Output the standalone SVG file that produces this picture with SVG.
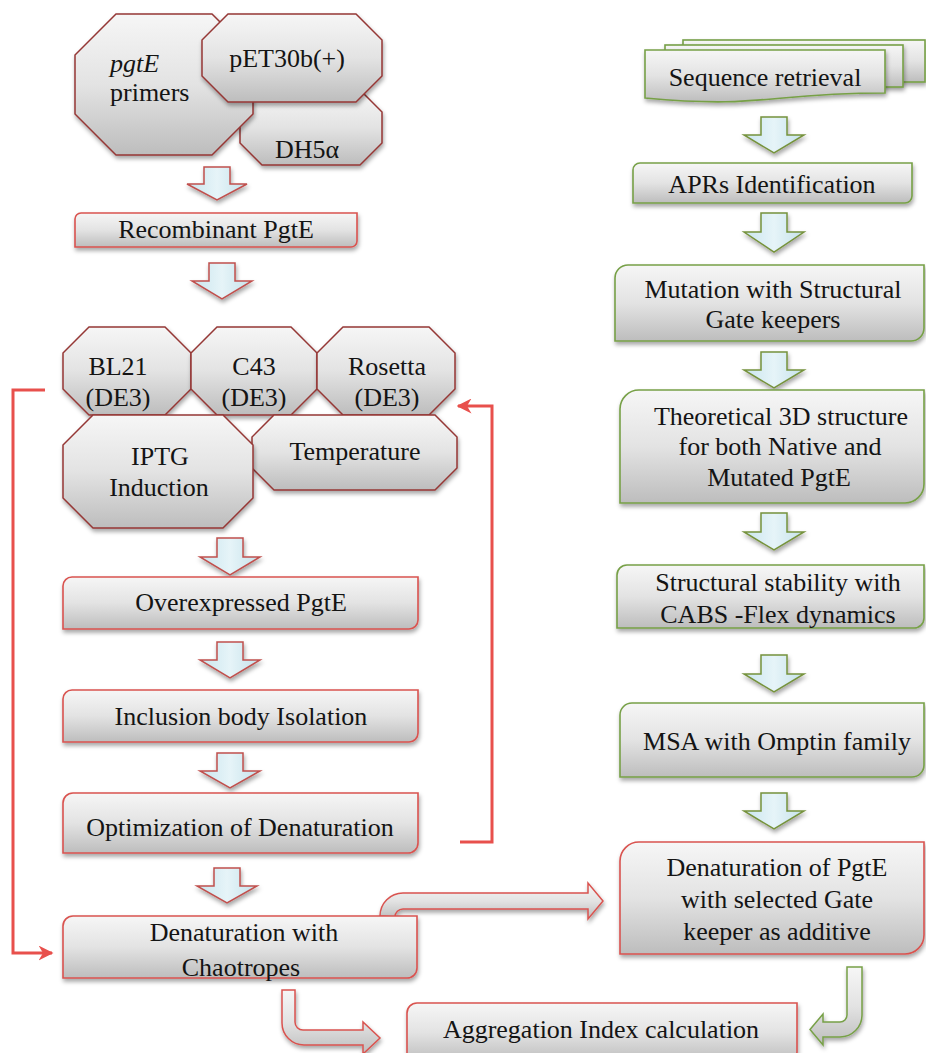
<svg xmlns="http://www.w3.org/2000/svg" width="926" height="1053" viewBox="0 0 926 1053">
<defs>
<linearGradient id="gfill" x1="0" y1="0" x2="0" y2="1">
<stop offset="0" stop-color="#f6f6f6"/>
<stop offset="0.5" stop-color="#e3e3e3"/>
<stop offset="1" stop-color="#bdbdbd"/>
</linearGradient>
<linearGradient id="gblue" x1="0" y1="0" x2="1" y2="0">
<stop offset="0" stop-color="#c9e5ee"/>
<stop offset="0.5" stop-color="#e6f4f8"/>
<stop offset="1" stop-color="#c4e1ea"/>
</linearGradient>
<filter id="sh" x="-10%" y="-10%" width="130%" height="140%">
<feDropShadow dx="1" dy="3" stdDeviation="2" flood-color="#000" flood-opacity="0.35"/>
</filter>
<marker id="ah" markerUnits="userSpaceOnUse" markerWidth="15" markerHeight="15" viewBox="0 0 10 10" refX="9" refY="5" orient="auto">
<path d="M0,0 L10,5 L0,10 L3,5 Z" fill="#e8504c"/>
</marker>
<style>
.oct{fill:url(#gfill);stroke:#953735;stroke-width:1.5;filter:url(#sh)}
.rbox{fill:url(#gfill);stroke:#d9534f;stroke-width:1.6;filter:url(#sh)}
.gbox{fill:url(#gfill);stroke:#77a047;stroke-width:1.6;filter:url(#sh)}
.rarr{fill:url(#gblue);stroke:#c0504d;stroke-width:1.5;filter:url(#sh)}
.garr{fill:url(#gblue);stroke:#76923c;stroke-width:1.5;filter:url(#sh)}
.rbent{fill:url(#gfill);stroke:#d9534f;stroke-width:1.5;filter:url(#sh)}
.gbent{fill:url(#gfill);stroke:#77a047;stroke-width:1.5;filter:url(#sh)}
.fb{fill:none;stroke:#e8504c;stroke-width:3;marker-end:url(#ah)}
text{font-size:26px;fill:#141414;text-anchor:middle}
.it{font-style:italic}
</style>
</defs>
<rect width="926" height="1053" fill="#ffffff"/>

<g id="connectors">
<path class="rarr" d="M204,167 H230 V184 H247 L217,200 L187,184 H204 Z"/>
<path class="rarr" d="M209,263 H235 V281 H252 L222,299 L192,281 H209 Z"/>
<path class="rarr" d="M217,538 H243 V557 H260 L230,575 L200,557 H217 Z"/>
<path class="rarr" d="M217,642 H243 V660 H260 L230,678 L200,660 H217 Z"/>
<path class="rarr" d="M217,753 H243 V771 H260 L230,788 L200,771 H217 Z"/>
<path class="rarr" d="M214,868 H240 V886 H257 L227,903 L197,886 H214 Z"/>
<path class="garr" d="M761,117 H787 V135 H804 L774,153 L744,135 H761 Z"/>
<path class="garr" d="M761,213 H787 V232 H804 L774,252 L744,232 H761 Z"/>
<path class="garr" d="M761,352 H787 V370 H804 L774,388 L744,370 H761 Z"/>
<path class="garr" d="M761,513 H787 V532 H804 L774,550 L744,532 H761 Z"/>
<path class="garr" d="M761,655 H787 V674 H804 L774,692 L744,674 H761 Z"/>
<path class="garr" d="M761,793 H787 V811 H804 L774,829 L744,811 H761 Z"/>
<path class="rbent" d="M380,916 A23,23 0 0 1 403,893 H588 V883 L603,901 L588,919 V909 H403 A8,8 0 0 0 395,917 Z"/>
<path class="rbent" d="M282,990 H295 V1022 A8,8 0 0 0 303,1030 H363 V1022 L380,1038 L363,1054 V1045 H304 A22,22 0 0 1 282,1023 Z"/>
<path class="gbent" d="M847,967 H862 V1015 A22,22 0 0 1 840,1037 H823 V1045 L810,1029.5 L823,1014 V1022 H840 A7,7 0 0 0 847,1015 Z"/>
<path class="fb" d="M45,390 H13 V953 H52"/>
<path class="fb" d="M460,842 H492 V406 H458"/>
</g>

<g font-family="Liberation Serif, Times New Roman, serif">
<g id="dh5a">
<path class="oct" d="M262,90 L360,90 L382,112 L382,143 L360,165 L262,165 L240,143 L240,112 Z"/>
<text x="307" y="158">DH5α</text>
</g>
<g id="pgtE-primers">
<path class="oct" d="M116,14 L212,14 L253,55 L253,114 L212,155 L116,155 L75,114 L75,55 Z"/>
<text x="110" y="72" class="it" style="text-anchor:start">pgtE</text>
<text x="110" y="101" style="text-anchor:start">primers</text>
</g>
<g id="pet30b">
<path class="oct" d="M228,14 L356,14 L382,40 L382,76 L356,102 L228,102 L202,76 L202,40 Z"/>
<text x="287" y="67">pET30b(+)</text>
</g>

<g id="recombinant">
<path class="rbox" d="M81,213 H357 V241 A6,6 0 0 1 351,247 H75 V219 A6,6 0 0 1 81,213 Z"/>
<text x="216" y="238">Recombinant PgtE</text>
</g>

<g id="bl21">
<path class="oct" d="M89,327 L165,327 L191,353 L191,389 L165,415 L89,415 L63,389 L63,353 Z"/>
<text x="118" y="375">BL21</text>
<text x="118" y="406">(DE3)</text>
</g>
<g id="c43">
<path class="oct" d="M217,327 L291,327 L317,353 L317,389 L291,415 L217,415 L191,389 L191,353 Z"/>
<text x="254" y="375">C43</text>
<text x="254" y="406">(DE3)</text>
</g>
<g id="rosetta">
<path class="oct" d="M343,327 L429,327 L455,353 L455,389 L429,415 L343,415 L317,389 L317,353 Z"/>
<text x="387" y="375">Rosetta</text>
<text x="387" y="406">(DE3)</text>
</g>
<g id="temperature">
<path class="oct" d="M274,415 L435,415 L457,437 L457,468 L435,490 L274,490 L252,468 L252,437 Z"/>
<text x="355" y="460">Temperature</text>
</g>
<g id="iptg">
<path class="oct" d="M93,415 L223,415 L253,445 L253,498 L223,528 L93,528 L63,498 L63,445 Z"/>
<text x="160" y="465">IPTG</text>
<text x="159" y="496">Induction</text>
</g>

<g id="overexpressed">
<path class="rbox" d="M72,577 H418 V620 A9,9 0 0 1 409,629 H63 V586 A9,9 0 0 1 72,577 Z"/>
<text x="241" y="611">Overexpressed PgtE</text>
</g>
<g id="inclusion">
<path class="rbox" d="M72,690 H418 V733 A9,9 0 0 1 409,742 H63 V699 A9,9 0 0 1 72,690 Z"/>
<text x="241" y="725">Inclusion body Isolation</text>
</g>
<g id="optimization">
<path class="rbox" d="M73,793 H418 V843 A10,10 0 0 1 408,853 H63 V803 A10,10 0 0 1 73,793 Z"/>
<text x="240" y="836">Optimization of Denaturation</text>
</g>
<g id="chaotropes">
<path class="rbox" d="M73,916 H417 V968 A10,10 0 0 1 407,978 H63 V926 A10,10 0 0 1 73,916 Z"/>
<text x="244" y="941">Denaturation with</text>
<text x="241" y="976">Chaotropes</text>
</g>

<g id="sequence">
<rect class="gbox" x="683" y="40" width="242" height="42"/>
<rect class="gbox" x="665" y="45" width="238" height="42"/>
<path class="gbox" d="M645,50 H885 V93 C765,93 765,109 645,98 Z"/>
<text x="765" y="86">Sequence retrieval</text>
</g>
<g id="aprs">
<path class="gbox" d="M640,163 H912 V196 A7,7 0 0 1 905,203 H633 V170 A7,7 0 0 1 640,163 Z"/>
<text x="772" y="193">APRs Identification</text>
</g>
<g id="mutation">
<path class="gbox" d="M628,265 H924 V328 A13,13 0 0 1 911,341 H615 V278 A13,13 0 0 1 628,265 Z"/>
<text x="773" y="298">Mutation with Structural</text>
<text x="773" y="328">Gate keepers</text>
</g>
<g id="theoretical">
<path class="gbox" d="M639,390 H924 V484 A19,19 0 0 1 905,503 H620 V409 A19,19 0 0 1 639,390 Z"/>
<text x="781" y="425">Theoretical 3D structure</text>
<text x="780" y="455">for both Native and</text>
<text x="779" y="486">Mutated PgtE</text>
</g>
<g id="structural">
<path class="gbox" d="M627,565 H924 V618 A10,10 0 0 1 914,628 H617 V575 A10,10 0 0 1 627,565 Z"/>
<text x="778" y="591">Structural stability with</text>
<text x="778" y="623">CABS -Flex dynamics</text>
</g>
<g id="msa">
<path class="gbox" d="M632,703 H924 V765 A12,12 0 0 1 912,777 H620 V715 A12,12 0 0 1 632,703 Z"/>
<text x="777" y="750">MSA with Omptin family</text>
</g>
<g id="denat-pgte">
<path class="rbox" d="M639,842 H924 V935 A19,19 0 0 1 905,954 H620 V861 A19,19 0 0 1 639,842 Z"/>
<text x="777" y="876">Denaturation of PgtE</text>
<text x="777" y="908">with selected Gate</text>
<text x="777" y="940">keeper as additive</text>
</g>
<g id="aggregation">
<path class="rbox" d="M417,1003 H797 V1052 A10,10 0 0 1 787,1062 H407 V1013 A10,10 0 0 1 417,1003 Z"/>
<text x="601" y="1038">Aggregation Index calculation</text>
</g>
</g>
</svg>
